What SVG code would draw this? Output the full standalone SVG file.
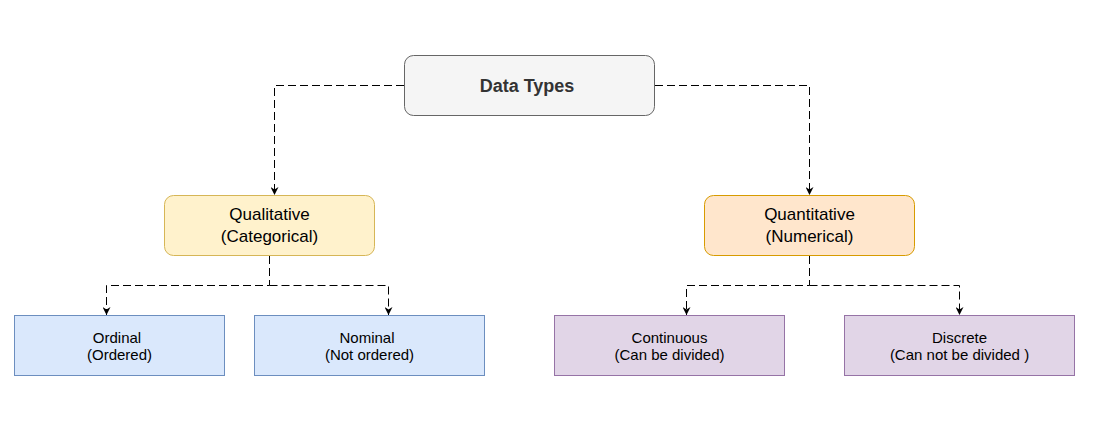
<svg xmlns="http://www.w3.org/2000/svg" width="1097" height="423" viewBox="0 0 1097 423">
<style>
text{font-family:"Liberation Sans",Arial,sans-serif;fill:#000;text-anchor:middle}
.big{font-size:18px;font-weight:bold;fill:#333}
.mid{font-size:17px}
.sm{font-size:15px}
.c{fill:none;stroke:#000;stroke-width:1;stroke-dasharray:8 4}
</style>
<defs>
<marker id="ah" viewBox="0 0 10 10" refX="10" refY="5" markerWidth="8" markerHeight="8" markerUnits="userSpaceOnUse" orient="auto">
<path d="M0,0 L10,5 L0,10 L3,5 Z" fill="#000"/>
</marker>
</defs>
<rect width="1097" height="423" fill="#fff"/>
<g id="connectors">
<path class="c" d="M404,85.5 H274.5 V195" marker-end="url(#ah)"/>
<path class="c" d="M655,85.5 H809.5 V195" marker-end="url(#ah)"/>
<path class="c" d="M269.5,256 V285.5 H106.5 V315" marker-end="url(#ah)"/>
<path class="c" d="M269.5,285.5 H388.5 V315" marker-end="url(#ah)"/>
<path class="c" d="M809.5,256 V285.5 H686.5 V315" marker-end="url(#ah)"/>
<path class="c" d="M809.5,285.5 H959.5 V315" marker-end="url(#ah)"/>
</g>
<g id="datatypes">
<rect x="404.5" y="55.5" width="250" height="60" rx="9" fill="#f5f5f5" stroke="#666"/>
<text class="big" x="527" y="91.5">Data Types</text>
</g>
<g id="qualitative">
<rect x="164.5" y="195.5" width="210" height="60" rx="9" fill="#fff2cc" stroke="#d6b656"/>
<text class="mid" x="269.5" y="220">Qualitative</text>
<text class="mid" x="269.5" y="242">(Categorical)</text>
</g>
<g id="quantitative">
<rect x="704.5" y="195.5" width="210" height="60" rx="9" fill="#ffe6cc" stroke="#d79b00"/>
<text class="mid" x="809.5" y="220">Quantitative</text>
<text class="mid" x="809.5" y="242">(Numerical)</text>
</g>
<g id="ordinal">
<rect x="14.5" y="315.5" width="210" height="60" fill="#dae8fc" stroke="#6c8ebf"/>
<text class="sm" x="117" y="342.5">Ordinal</text>
<text class="sm" x="119.5" y="360">(Ordered)</text>
</g>
<g id="nominal">
<rect x="254.5" y="315.5" width="230" height="60" fill="#dae8fc" stroke="#6c8ebf"/>
<text class="sm" x="367" y="342.5">Nominal</text>
<text class="sm" x="369.5" y="360">(Not ordered)</text>
</g>
<g id="continuous">
<rect x="554.5" y="315.5" width="230" height="60" fill="#e1d5e7" stroke="#9673a6"/>
<text class="sm" x="669.5" y="342.5">Continuous</text>
<text class="sm" x="669.5" y="360">(Can be divided)</text>
</g>
<g id="discrete">
<rect x="844.5" y="315.5" width="230" height="60" fill="#e1d5e7" stroke="#9673a6"/>
<text class="sm" x="959.5" y="342.5">Discrete</text>
<text class="sm" x="959.5" y="360">(Can not be divided )</text>
</g>
</svg>
